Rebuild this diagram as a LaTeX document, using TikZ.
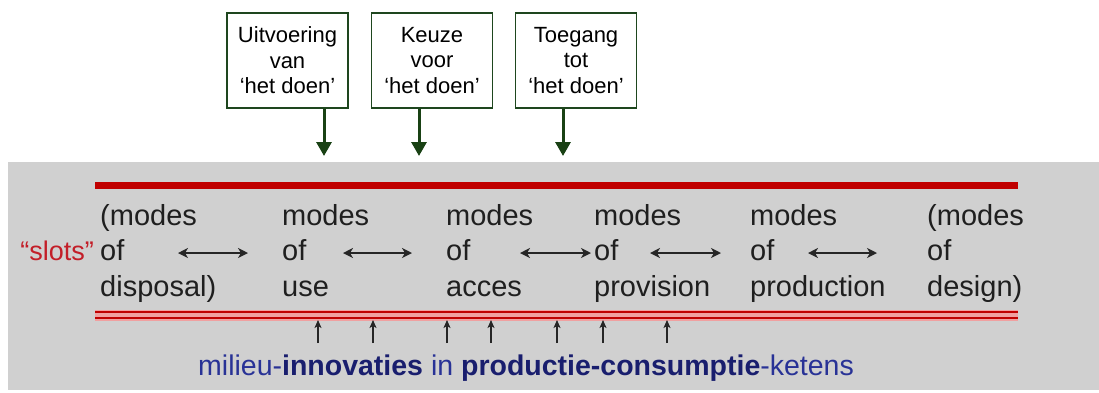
\documentclass[tikz,border=0pt]{standalone}
\usepackage{fontspec}
\setmainfont{Liberation Sans}
\usetikzlibrary{arrows.meta}
\definecolor{panelgray}{RGB}{208,208,208}
\definecolor{barred}{RGB}{192,0,0}
\definecolor{barpink}{RGB}{240,160,160}
\definecolor{slotred}{RGB}{195,30,40}
\definecolor{boxgreen}{RGB}{30,70,30}
\definecolor{arrgreen}{RGB}{25,65,20}
\definecolor{innoblue}{RGB}{40,50,150}
\definecolor{innonavy}{RGB}{25,30,110}
\begin{document}
\begin{tikzpicture}[x=1pt,y=-1pt,
  topbox/.style={draw=boxgreen, line width=1.5pt, fill=white, minimum width=121pt, minimum height=95pt,
    inner sep=0pt, align=center, font=\fontsize{22}{25.5}\selectfont},
  garrow/.style={draw=arrgreen, line width=3pt, -{Triangle[length=14pt,width=15pt]}},
  modetext/.style={anchor=base west, inner sep=0pt, font=\fontsize{29}{34}\selectfont, text=black!88},
  linkarrow/.style={line width=1.5pt, black!85, {Stealth[length=10pt,width=10pt,inset=3pt]}-{Stealth[length=10pt,width=10pt,inset=3pt]}},
  uparrow/.style={line width=1.1pt, black!85, -{Stealth[length=8pt,width=7pt,inset=2pt]}}
]
\useasboundingbox (0,0) rectangle (1099,392);
\fill[panelgray] (8,162) rectangle (1099,390);

% top boxes
\node[topbox] (b1) at (287.5,60.5) {Uitvoering\\van\\‘het doen’};
\node[topbox] (b2) at (432,60.5) {Keuze\\voor\\‘het doen’};
\node[topbox] (b3) at (576,60.5) {Toegang\\tot\\‘het doen’};
\coordinate (t1) at (324,156);
\coordinate (t2) at (419,156);
\coordinate (t3) at (563,156);
\draw[garrow] (b1.south -| t1) -- (t1);
\draw[garrow] (b2.south -| t2) -- (t2);
\draw[garrow] (b3.south -| t3) -- (t3);

% red bars
\draw[barred, line width=7pt] (95,185.5) -- (1018,185.5);
\fill[barpink] (95,309.5) rectangle (1018,320.5);
\draw[barred, line width=2.6pt] (95,312) -- (1018,312);
\draw[barred, line width=2.6pt] (95,318) -- (1018,318);

% slots label
\node[anchor=base east, inner sep=0pt, font=\fontsize{27}{30}\selectfont, text=slotred] (slots) at (94,260) {“slots”};

% columns
\node[modetext] (c1a) at (100,225) {(modes};
\node[modetext] (c1b) at (100,260) {of};
\node[modetext] (c1c) at (100,296) {disposal)};
\node[modetext] (c2a) at (282,225) {modes};
\node[modetext] (c2b) at (282,260) {of};
\node[modetext] (c2c) at (282,296) {use};
\node[modetext] (c3a) at (446,225) {modes};
\node[modetext] (c3b) at (446,260) {of};
\node[modetext] (c3c) at (446,296) {acces};
\node[modetext] (c4a) at (594,225) {modes};
\node[modetext] (c4b) at (594,260) {of};
\node[modetext] (c4c) at (594,296) {provision};
\node[modetext] (c5a) at (750,225) {modes};
\node[modetext] (c5b) at (750,260) {of};
\node[modetext] (c5c) at (750,296) {production};
\node[modetext] (c6a) at (927,225) {(modes};
\node[modetext] (c6b) at (927,260) {of};
\node[modetext] (c6c) at (927,296) {design)};

% link arrows
\coordinate (l1a) at (178,253); \coordinate (l1b) at (248,253);
\coordinate (l2a) at (343,253); \coordinate (l2b) at (412,253);
\coordinate (l3a) at (520,253); \coordinate (l3b) at (591,253);
\coordinate (l4a) at (650,253); \coordinate (l4b) at (721,253);
\coordinate (l5a) at (808,253); \coordinate (l5b) at (877,253);
\draw[linkarrow] (l1a) -- (l1b);
\draw[linkarrow] (l2a) -- (l2b);
\draw[linkarrow] (l3a) -- (l3b);
\draw[linkarrow] (l4a) -- (l4b);
\draw[linkarrow] (l5a) -- (l5b);

% small up arrows
\foreach \i/\x in {1/318,2/373,3/447,4/491,5/557,6/603,7/667}{
  \coordinate (u\i s) at (\x,343);
  \coordinate (u\i t) at (\x,320);
  \draw[uparrow] (u\i s) -- (u\i t);
}

% bottom text
\node[anchor=base west, inner sep=0pt, font=\fontsize{28.5}{32}\selectfont] (inno) at (198,375)
  {\textcolor{innoblue}{milieu-}\textcolor{innonavy}{\bfseries innovaties}\ \textcolor{innoblue}{in}\ \textcolor{innonavy}{\bfseries productie-consumptie}\textcolor{innoblue}{-ketens}};
\end{tikzpicture}
\end{document}
